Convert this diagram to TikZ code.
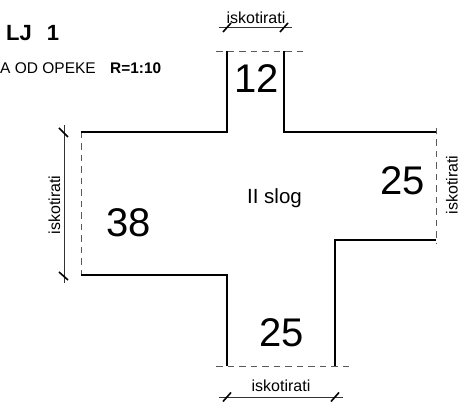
\documentclass[tikz,border=0pt]{standalone}
\usepackage{fontspec}
\setmainfont{Liberation Sans}
\tikzset{
  wall/.style={line width=2.7pt,line cap=butt,line join=miter,black},
  cut/.style={line width=0.9pt,black!65,dash pattern=on 6.5pt off 5pt},
  dim/.style={line width=0.9pt,black!80},
  tick/.style={line width=1.6pt,black},
  lab/.style={inner sep=0pt,font=\fontsize{16}{16}\selectfont},
  num/.style={inner sep=0pt,font=\fontsize{40}{40}\selectfont}
}
\newcommand{\dimtick}[2]{\draw[tick] (#1-4,#2+4.5) -- (#1+4,#2-4.5);}
\begin{document}
\begin{tikzpicture}[x=1pt,y=-1pt]
\useasboundingbox (0,0) rectangle (461,403);
% dashed cut lines
\draw[cut] (216,51) -- (303,51);
\draw[cut] (81,132) -- (81,275);
\draw[cut] (436,128) -- (436,244);
\draw[cut] (216,366) -- (351,366);
% walls
\draw[wall] (227,51) -- (227,132) -- (81,132);
\draw[wall] (284,51) -- (284,132) -- (436,132);
\draw[wall] (81,275) -- (227,275) -- (227,366);
\draw[wall] (436,240) -- (335,240) -- (335,366);
% dimension lines
\draw[dim] (219,27.3) -- (292,27.3);
\dimtick{227}{27.5}\dimtick{284}{27.5}
\draw[dim] (64,125) -- (64,283);
\draw[tick] (59,128) -- (68,137);
\draw[tick] (59,272) -- (68,280);
\draw[dim] (219,397) -- (343,397);
\dimtick{227}{397}\dimtick{335}{397}
% texts
\node[anchor=base west,inner sep=0pt,font=\bfseries\fontsize{22}{22}\selectfont] (title) at (6,41) {LJ\hspace{15pt}1};
\node[anchor=base west,inner sep=0pt,font=\fontsize{15.5}{15.5}\selectfont] (sub) at (0,74) {A OD OPEKE};
\node[anchor=base west,inner sep=0pt,font=\bfseries\fontsize{15.4}{15.4}\selectfont] (scale) at (110,74) {R=1:10};
\node[lab,anchor=base] (t1) at (256,24) {iskotirati};
\node[lab,anchor=base,rotate=90] (t2) at (60,205) {iskotirati};
\node[lab,anchor=base,rotate=90] (t3) at (457.5,185) {iskotirati};
\node[lab,anchor=base] (t4) at (281,392) {iskotirati};
\node[anchor=base,inner sep=0pt,font=\fontsize{20.5}{20.5}\selectfont] (slog) at (274.5,203.5) {II slog};
\node[num,anchor=base] (n12) at (257,93) {12};
\node[num,anchor=base] (n38) at (129,237) {38};
\node[num,anchor=base] (n25a) at (403,195) {25};
\node[num,anchor=base] (n25b) at (282,347) {25};
\end{tikzpicture}
\end{document}
